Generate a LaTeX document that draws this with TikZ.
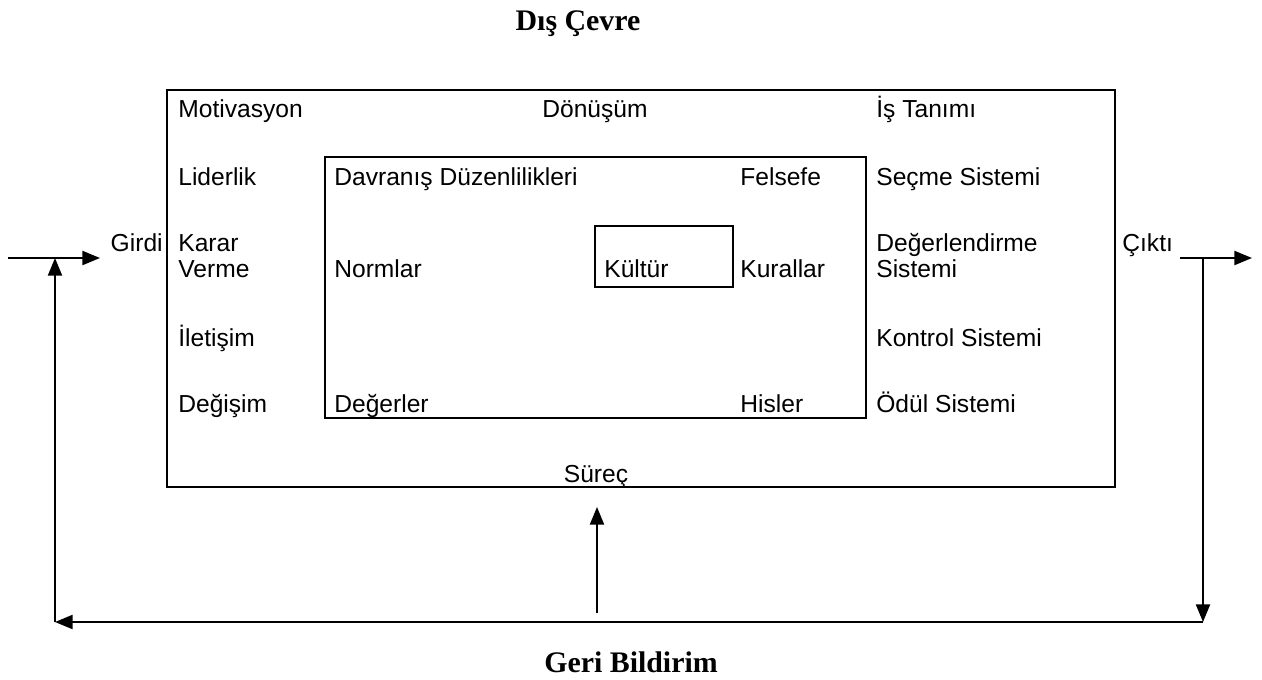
\documentclass[tikz,border=0pt]{standalone}
\usepackage{fontspec}
\setmainfont{Liberation Sans}
\newfontfamily\titlefont{Liberation Serif}
\usepackage{tikz}
\usetikzlibrary{arrows.meta,positioning,calc}

\begin{document}
\begin{tikzpicture}[
			x=0.02cm, y=-0.02cm,
			lbl/.style={anchor=base west, inner sep=0pt, align=left,
				font=\fontsize{14}{14.7}\selectfont},
			title/.style={anchor=base, inner sep=0pt, font=\titlefont\bfseries\fontsize{17}{19}\selectfont},
			frame/.style={draw, line width=1.6pt},
			arrow/.style={-{Triangle[length=10pt, width=8pt]}, line width=1pt}
			]
			\useasboundingbox (0,0) rectangle (1262,680);
			% frames
			\draw[frame] (167,90) rectangle (1115,487);
			\draw[frame] (325,157) rectangle (866,418);
			\draw[frame] (595,226) rectangle (733,287);
			% titles
			\node[title] (cevre) at (578,30) {Dış Çevre};
			\node[title] (geri) at (631,672) {Geri Bildirim};
			% left column
			\node[lbl] (motiv) at (178,117) {Motivasyon};
			\node[lbl] (lider) at (178,185) {Liderlik};
			\node[lbl] (karar) at (178,277) {Karar\\Verme};
			\node[lbl] (ileti) at (178,346) {İletişim};
			\node[lbl] (degis) at (178,412) {Değişim};
			% inner box
			\node[lbl] (davr) at (334,185) {Davranış Düzenlilikleri};
			\node[lbl] (norm) at (334,277) {Normlar};
			\node[lbl] (degr) at (334,412) {Değerler};
			\node[lbl] (kult) at (604,277) {Kültür};
			\node[lbl] (fels) at (740,185) {Felsefe};
			\node[lbl] (kural) at (740,277) {Kurallar};
			\node[lbl] (hisl) at (740,412) {Hisler};
			% right column
			\node[lbl] (istan) at (876,117) {İş Tanımı};
			\node[lbl] (secme) at (876,185) {Seçme Sistemi};
			\node[lbl] (degl) at (876,277) {Değerlendirme\\Sistemi};
			\node[lbl] (kontr) at (876,346) {Kontrol Sistemi};
			\node[lbl] (odul) at (876,412) {Ödül Sistemi};
			% top / bottom
			\node[lbl, anchor=base] (donus) at (595,117) {Dönüşüm};
			\node[lbl, anchor=base] (surec) at (596,482) {Süreç};
			\node[lbl, anchor=base east] (girdi) at (163,251) {Girdi};
			\node[lbl] (cikti) at (1122,251) {Çıktı};
			% arrow ends
			\coordinate (inA) at (8,258);
			\coordinate (inB) at (100,258);
			\coordinate (fbUp) at (55,258);
			\coordinate (fbL) at (55,622);
			\coordinate (fbR) at (1203,622);
			\coordinate (outA) at (1180,258);
			\coordinate (outB) at (1252,258);
			\coordinate (outJ) at (1203,258);
			\coordinate (upA) at (597,613);
			\coordinate (upB) at (597,507);
			\draw[arrow] (inA) -- (inB);
			\draw[arrow] (fbL) -- (fbUp);
			\draw[arrow] (fbR) -- (fbL);
			\draw[arrow] (outA) -- (outB);
			\draw[arrow] (outJ) -- (fbR);
			\draw[arrow] (upA) -- (upB);
		\end{tikzpicture}
\end{document}
